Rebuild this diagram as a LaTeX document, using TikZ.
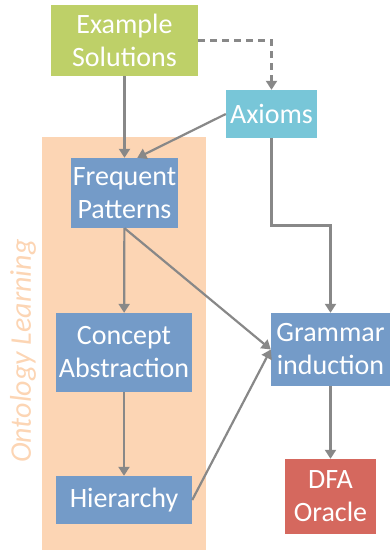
\documentclass[tikz,border=0pt]{standalone}
\usepackage{fontspec}
\setmainfont{Carlito}
\usepackage{tikz}
\usetikzlibrary{arrows.meta,shapes,positioning,calc}
\definecolor{solgreen}{RGB}{190,208,104}
\definecolor{axaqua}{RGB}{120,198,216}
\definecolor{stepblue}{RGB}{116,155,200}
\definecolor{oraclered}{RGB}{213,104,94}
\definecolor{ontopeach}{RGB}{252,213,180}
\definecolor{linegray}{RGB}{136,136,136}
\tikzset{
  box/.style={rectangle, inner sep=0pt, align=center, text=white, font=\fontsize{28}{33}\selectfont},
  flow/.style={draw=linegray, line width=2.2pt, -{Triangle[width=11pt,length=9pt]}}
}

\begin{document}
\begin{tikzpicture}[x=1pt,y=-1pt]
        \useasboundingbox (0,0) rectangle (391,550);
        % Ontology learning background
        \fill[ontopeach] (42,137) rectangle (206,550);
        \node[rotate=90, text=ontopeach, font=\fontsize{30}{34}\selectfont\itshape] (ontolabel) at (23,351) {Ontology Learning};

        % Define nodes at pixel-like coordinates
        \node[box, fill=solgreen, minimum width=147pt, minimum height=71pt] (example) at (124.5,40.5) {Example\\Solutions};
        \node[box, fill=axaqua, minimum width=91pt, minimum height=48pt] (axioms) at (271.5,114) {Axioms};
        \node[box, fill=stepblue, minimum width=107pt, minimum height=70pt] (freq) at (124.5,193) {Frequent\\Patterns};
        \node[box, fill=stepblue, minimum width=136pt, minimum height=79pt] (concept) at (124,352.5) {Concept\\Abstraction};
        \node[box, fill=stepblue, minimum width=136pt, minimum height=48pt] (hier) at (124,500) {Hierarchy};
        \node[box, fill=stepblue, minimum width=119pt, minimum height=73pt] (grammar) at (330.5,349.5) {Grammar\\induction};
        \node[box, fill=oraclered, minimum width=91pt, minimum height=75pt] (dfa) at (330.5,496.5) {DFA\\Oracle};

        % Connect nodes
        \draw[flow] (example) -- (freq);
        \draw[flow, dash pattern=on 7pt off 5pt] (example.east) -| (axioms.north);
        \draw[flow] (axioms.west) -- (freq.70);
        \draw[flow] (axioms.south) |- ($(axioms.south)!.5!(grammar.north)$) -| (grammar.north);
        \draw[flow] (freq) -- (concept);
        \draw[flow] (concept) -- (hier);
        \draw[flow] (freq.south) -- (grammar.west);
        \draw[flow] (hier.east) -- (grammar.west);
        \draw[flow] (grammar) -- (dfa);
    \end{tikzpicture}
\end{document}
